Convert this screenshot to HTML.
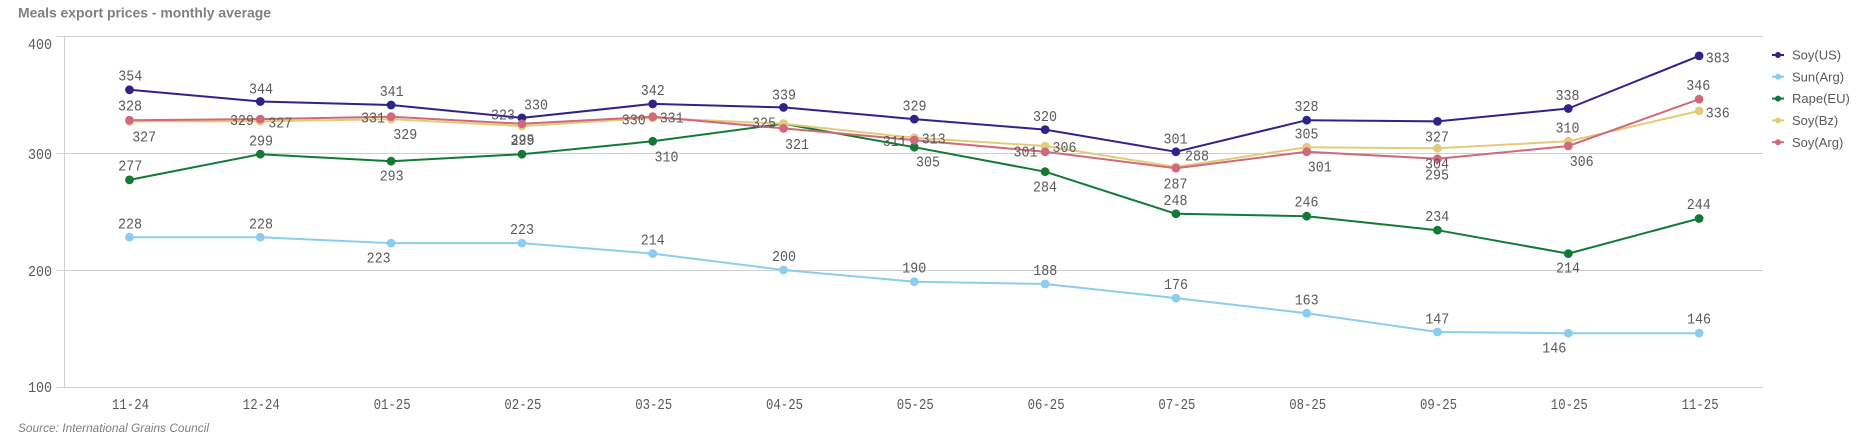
<!DOCTYPE html>
<html>
<head>
<meta charset="utf-8">
<style>
html,body{margin:0;padding:0;background:#fff;}
svg{display:block;}
.lb{font-family:"Liberation Mono",monospace;font-size:14.5px;fill:#595959;}
.ax{font-family:"Liberation Mono",monospace;font-size:14.5px;fill:#595959;}
.lg{font-family:"Liberation Sans",sans-serif;font-size:13px;fill:#595959;}
</style>
</head>
<body>
<svg width="1875" height="440" viewBox="0 0 1875 440" xmlns="http://www.w3.org/2000/svg">
<rect width="1875" height="440" fill="#fff"/>
<text x="18" y="17.5" font-family="Liberation Sans, sans-serif" font-weight="bold" font-size="13.5" fill="#7f7f7f" textLength="253" lengthAdjust="spacingAndGlyphs">Meals export prices - monthly average</text>

<!-- grid -->
<g stroke="#cfcfcf" stroke-width="1">
<line x1="57" y1="36.5" x2="1763" y2="36.5"/>
<line x1="57" y1="153.5" x2="1763" y2="153.5"/>
<line x1="57" y1="270.5" x2="1763" y2="270.5"/>
<line x1="57" y1="387.5" x2="1763" y2="387.5"/>
<line x1="64.5" y1="36" x2="64.5" y2="388"/>
</g>

<!-- y axis labels -->
<g class="ax" text-anchor="end">
<text x="52" y="49" textLength="24" lengthAdjust="spacingAndGlyphs">400</text>
<text x="52" y="159" textLength="24" lengthAdjust="spacingAndGlyphs">300</text>
<text x="52" y="276" textLength="24" lengthAdjust="spacingAndGlyphs">200</text>
<text x="52" y="392" textLength="24" lengthAdjust="spacingAndGlyphs">100</text>
</g>

<!-- x axis labels -->
<g class="ax" text-anchor="middle">
<text x="130.5" y="409" textLength="37" lengthAdjust="spacingAndGlyphs">11-24</text>
<text x="261.3" y="409" textLength="37" lengthAdjust="spacingAndGlyphs">12-24</text>
<text x="392.1" y="409" textLength="37" lengthAdjust="spacingAndGlyphs">01-25</text>
<text x="522.9" y="409" textLength="37" lengthAdjust="spacingAndGlyphs">02-25</text>
<text x="653.7" y="409" textLength="37" lengthAdjust="spacingAndGlyphs">03-25</text>
<text x="784.5" y="409" textLength="37" lengthAdjust="spacingAndGlyphs">04-25</text>
<text x="915.3" y="409" textLength="37" lengthAdjust="spacingAndGlyphs">05-25</text>
<text x="1046.1" y="409" textLength="37" lengthAdjust="spacingAndGlyphs">06-25</text>
<text x="1176.9" y="409" textLength="37" lengthAdjust="spacingAndGlyphs">07-25</text>
<text x="1307.7" y="409" textLength="37" lengthAdjust="spacingAndGlyphs">08-25</text>
<text x="1438.5" y="409" textLength="37" lengthAdjust="spacingAndGlyphs">09-25</text>
<text x="1569.3" y="409" textLength="37" lengthAdjust="spacingAndGlyphs">10-25</text>
<text x="1700.1" y="409" textLength="37" lengthAdjust="spacingAndGlyphs">11-25</text>
</g>

<!-- Soy(US) -->
<polyline fill="none" stroke="#2e2388" stroke-width="2" stroke-linejoin="round" points="129.5,89.8 260.3,101.5 391.1,105.0 521.9,117.9 652.7,103.9 783.5,107.4 914.3,119.1 1045.1,129.6 1175.9,151.8 1306.7,120.2 1437.5,121.4 1568.3,108.5 1699.1,55.9"/>
<g fill="#2e2388">
<circle cx="129.5" cy="89.8" r="4.4"/><circle cx="260.3" cy="101.5" r="4.4"/><circle cx="391.1" cy="105.0" r="4.4"/><circle cx="521.9" cy="117.9" r="4.4"/><circle cx="652.7" cy="103.9" r="4.4"/><circle cx="783.5" cy="107.4" r="4.4"/><circle cx="914.3" cy="119.1" r="4.4"/><circle cx="1045.1" cy="129.6" r="4.4"/><circle cx="1175.9" cy="151.8" r="4.4"/><circle cx="1306.7" cy="120.2" r="4.4"/><circle cx="1437.5" cy="121.4" r="4.4"/><circle cx="1568.3" cy="108.5" r="4.4"/><circle cx="1699.1" cy="55.9" r="4.4"/>
</g>

<!-- Sun(Arg) -->
<polyline fill="none" stroke="#8bcdee" stroke-width="2" stroke-linejoin="round" points="129.5,237.2 260.3,237.2 391.1,243.1 521.9,243.1 652.7,253.6 783.5,270 914.3,281.7 1045.1,284.0 1175.9,298.1 1306.7,313.3 1437.5,332.0 1568.3,333.2 1699.1,333.2"/>
<g fill="#8bcdee">
<circle cx="129.5" cy="237.2" r="4.4"/><circle cx="260.3" cy="237.2" r="4.4"/><circle cx="391.1" cy="243.1" r="4.4"/><circle cx="521.9" cy="243.1" r="4.4"/><circle cx="652.7" cy="253.6" r="4.4"/><circle cx="783.5" cy="270" r="4.4"/><circle cx="914.3" cy="281.7" r="4.4"/><circle cx="1045.1" cy="284.0" r="4.4"/><circle cx="1175.9" cy="298.1" r="4.4"/><circle cx="1306.7" cy="313.3" r="4.4"/><circle cx="1437.5" cy="332.0" r="4.4"/><circle cx="1568.3" cy="333.2" r="4.4"/><circle cx="1699.1" cy="333.2" r="4.4"/>
</g>

<!-- Rape(EU) -->
<polyline fill="none" stroke="#137a36" stroke-width="2" stroke-linejoin="round" points="129.5,179.9 260.3,154.2 391.1,161.2 521.9,154.2 652.7,141.3 783.5,123.8 914.3,147.2 1045.1,171.7 1175.9,213.8 1306.7,216.2 1437.5,230.2 1568.3,253.6 1699.1,218.5"/>
<g fill="#137a36">
<circle cx="129.5" cy="179.9" r="4.4"/><circle cx="260.3" cy="154.2" r="4.4"/><circle cx="391.1" cy="161.2" r="4.4"/><circle cx="521.9" cy="154.2" r="4.4"/><circle cx="652.7" cy="141.3" r="4.4"/><circle cx="783.5" cy="123.8" r="4.4"/><circle cx="914.3" cy="147.2" r="4.4"/><circle cx="1045.1" cy="171.7" r="4.4"/><circle cx="1175.9" cy="213.8" r="4.4"/><circle cx="1306.7" cy="216.2" r="4.4"/><circle cx="1437.5" cy="230.2" r="4.4"/><circle cx="1568.3" cy="253.6" r="4.4"/><circle cx="1699.1" cy="218.5" r="4.4"/>
</g>

<!-- Soy(Bz) -->
<polyline fill="none" stroke="#e2cc7a" stroke-width="2" stroke-linejoin="round" points="129.5,121.4 260.3,121.4 391.1,119.1 521.9,126.1 652.7,117.9 783.5,123.8 914.3,137.8 1045.1,146.0 1175.9,167.0 1306.7,147.2 1437.5,148.3 1568.3,141.3 1699.1,110.9"/>
<g fill="#e2cc7a">
<circle cx="129.5" cy="121.4" r="4.4"/><circle cx="260.3" cy="121.4" r="4.4"/><circle cx="391.1" cy="119.1" r="4.4"/><circle cx="521.9" cy="126.1" r="4.4"/><circle cx="652.7" cy="117.9" r="4.4"/><circle cx="783.5" cy="123.8" r="4.4"/><circle cx="914.3" cy="137.8" r="4.4"/><circle cx="1045.1" cy="146.0" r="4.4"/><circle cx="1175.9" cy="167.0" r="4.4"/><circle cx="1306.7" cy="147.2" r="4.4"/><circle cx="1437.5" cy="148.3" r="4.4"/><circle cx="1568.3" cy="141.3" r="4.4"/><circle cx="1699.1" cy="110.9" r="4.4"/>
</g>

<!-- Soy(Arg) -->
<polyline fill="none" stroke="#d0697b" stroke-width="2" stroke-linejoin="round" points="129.5,120.2 260.3,119.1 391.1,116.7 521.9,123.8 652.7,116.7 783.5,128.4 914.3,140.1 1045.1,151.8 1175.9,168.2 1306.7,151.8 1437.5,158.8 1568.3,146.0 1699.1,99.2"/>
<g fill="#d0697b">
<circle cx="129.5" cy="120.2" r="4.4"/><circle cx="260.3" cy="119.1" r="4.4"/><circle cx="391.1" cy="116.7" r="4.4"/><circle cx="521.9" cy="123.8" r="4.4"/><circle cx="652.7" cy="116.7" r="4.4"/><circle cx="783.5" cy="128.4" r="4.4"/><circle cx="914.3" cy="140.1" r="4.4"/><circle cx="1045.1" cy="151.8" r="4.4"/><circle cx="1175.9" cy="168.2" r="4.4"/><circle cx="1306.7" cy="151.8" r="4.4"/><circle cx="1437.5" cy="158.8" r="4.4"/><circle cx="1568.3" cy="146.0" r="4.4"/><circle cx="1699.1" cy="99.2" r="4.4"/>
</g>

<!-- data labels -->
<g class="lb" text-anchor="middle">
<!-- US -->
<text x="130.3" y="80.7" textLength="24" lengthAdjust="spacingAndGlyphs">354</text>
<text x="261" y="93.3" textLength="24" lengthAdjust="spacingAndGlyphs">344</text>
<text x="391.7" y="96" textLength="24" lengthAdjust="spacingAndGlyphs">341</text>
<text x="536" y="109.3" textLength="24" lengthAdjust="spacingAndGlyphs">330</text>
<text x="652.8" y="95" textLength="24" lengthAdjust="spacingAndGlyphs">342</text>
<text x="784" y="99.3" textLength="24" lengthAdjust="spacingAndGlyphs">339</text>
<text x="914.5" y="110.7" textLength="24" lengthAdjust="spacingAndGlyphs">329</text>
<text x="1045" y="121" textLength="24" lengthAdjust="spacingAndGlyphs">320</text>
<text x="1175.5" y="143.3" textLength="24" lengthAdjust="spacingAndGlyphs">301</text>
<text x="1306.5" y="111" textLength="24" lengthAdjust="spacingAndGlyphs">328</text>
<text x="1437" y="141.7" textLength="24" lengthAdjust="spacingAndGlyphs">327</text>
<text x="1567.5" y="100" textLength="24" lengthAdjust="spacingAndGlyphs">338</text>
<text x="1717.8" y="62.3" textLength="24" lengthAdjust="spacingAndGlyphs">383</text>
<!-- Arg -->
<text x="130" y="110.7" textLength="24" lengthAdjust="spacingAndGlyphs">328</text>
<text x="242" y="125" textLength="24" lengthAdjust="spacingAndGlyphs">329</text>
<text x="373" y="122.7" textLength="24" lengthAdjust="spacingAndGlyphs">331</text>
<text x="522.5" y="144.5" textLength="24" lengthAdjust="spacingAndGlyphs">325</text>
<text x="671.7" y="122.3" textLength="24" lengthAdjust="spacingAndGlyphs">331</text>
<text x="797" y="149" textLength="24" lengthAdjust="spacingAndGlyphs">321</text>
<text x="894.7" y="146" textLength="24" lengthAdjust="spacingAndGlyphs">311</text>
<text x="1025.5" y="156.7" textLength="24" lengthAdjust="spacingAndGlyphs">301</text>
<text x="1175.5" y="188.3" textLength="24" lengthAdjust="spacingAndGlyphs">287</text>
<text x="1319.8" y="171.7" textLength="24" lengthAdjust="spacingAndGlyphs">301</text>
<text x="1437" y="179.3" textLength="24" lengthAdjust="spacingAndGlyphs">295</text>
<text x="1581.7" y="166" textLength="24" lengthAdjust="spacingAndGlyphs">306</text>
<text x="1698.3" y="90" textLength="24" lengthAdjust="spacingAndGlyphs">346</text>
<!-- Bz -->
<text x="144.2" y="141.7" textLength="24" lengthAdjust="spacingAndGlyphs">327</text>
<text x="280.3" y="127.7" textLength="24" lengthAdjust="spacingAndGlyphs">327</text>
<text x="405.3" y="139" textLength="24" lengthAdjust="spacingAndGlyphs">329</text>
<text x="503" y="119.3" textLength="24" lengthAdjust="spacingAndGlyphs">323</text>
<text x="633.8" y="124.3" textLength="24" lengthAdjust="spacingAndGlyphs">330</text>
<text x="764" y="127.3" textLength="24" lengthAdjust="spacingAndGlyphs">325</text>
<text x="933.7" y="143.3" textLength="24" lengthAdjust="spacingAndGlyphs">313</text>
<text x="1064.5" y="152" textLength="24" lengthAdjust="spacingAndGlyphs">306</text>
<text x="1197" y="160.7" textLength="24" lengthAdjust="spacingAndGlyphs">288</text>
<text x="1306.5" y="138.3" textLength="24" lengthAdjust="spacingAndGlyphs">305</text>
<text x="1437" y="168.3" textLength="24" lengthAdjust="spacingAndGlyphs">304</text>
<text x="1567.5" y="132.3" textLength="24" lengthAdjust="spacingAndGlyphs">310</text>
<text x="1717.8" y="117.3" textLength="24" lengthAdjust="spacingAndGlyphs">336</text>
<!-- Rape -->
<text x="130.3" y="170.7" textLength="24" lengthAdjust="spacingAndGlyphs">277</text>
<text x="261" y="145.7" textLength="24" lengthAdjust="spacingAndGlyphs">299</text>
<text x="391.7" y="180.7" textLength="24" lengthAdjust="spacingAndGlyphs">293</text>
<text x="522.5" y="145.2" textLength="24" lengthAdjust="spacingAndGlyphs">299</text>
<text x="666.5" y="161.7" textLength="24" lengthAdjust="spacingAndGlyphs">310</text>
<text x="928" y="166.7" textLength="24" lengthAdjust="spacingAndGlyphs">305</text>
<text x="1045" y="191.7" textLength="24" lengthAdjust="spacingAndGlyphs">284</text>
<text x="1175.5" y="205" textLength="24" lengthAdjust="spacingAndGlyphs">248</text>
<text x="1306.5" y="206.7" textLength="24" lengthAdjust="spacingAndGlyphs">246</text>
<text x="1437.3" y="221" textLength="24" lengthAdjust="spacingAndGlyphs">234</text>
<text x="1568" y="272.7" textLength="24" lengthAdjust="spacingAndGlyphs">214</text>
<text x="1698.8" y="209.2" textLength="24" lengthAdjust="spacingAndGlyphs">244</text>
<!-- Sun -->
<text x="130" y="228.3" textLength="24" lengthAdjust="spacingAndGlyphs">228</text>
<text x="261" y="228.3" textLength="24" lengthAdjust="spacingAndGlyphs">228</text>
<text x="378.6" y="262.6" textLength="24" lengthAdjust="spacingAndGlyphs">223</text>
<text x="522" y="234" textLength="24" lengthAdjust="spacingAndGlyphs">223</text>
<text x="652.7" y="244.6" textLength="24" lengthAdjust="spacingAndGlyphs">214</text>
<text x="784" y="260.8" textLength="24" lengthAdjust="spacingAndGlyphs">200</text>
<text x="914.3" y="272.5" textLength="24" lengthAdjust="spacingAndGlyphs">190</text>
<text x="1045.3" y="275" textLength="24" lengthAdjust="spacingAndGlyphs">188</text>
<text x="1176" y="289" textLength="24" lengthAdjust="spacingAndGlyphs">176</text>
<text x="1306.7" y="304.3" textLength="24" lengthAdjust="spacingAndGlyphs">163</text>
<text x="1437.3" y="323.3" textLength="24" lengthAdjust="spacingAndGlyphs">147</text>
<text x="1554.3" y="352.3" textLength="24" lengthAdjust="spacingAndGlyphs">146</text>
<text x="1699" y="323.3" textLength="24" lengthAdjust="spacingAndGlyphs">146</text>
</g>

<!-- legend -->
<g stroke-width="2">
<line x1="1772" y1="55" x2="1784" y2="55" stroke="#2e2388"/><circle cx="1778" cy="55" r="3" fill="#2e2388"/>
<line x1="1772" y1="76.8" x2="1784" y2="76.8" stroke="#8bcdee"/><circle cx="1778" cy="76.8" r="3" fill="#8bcdee"/>
<line x1="1772" y1="98.6" x2="1784" y2="98.6" stroke="#137a36"/><circle cx="1778" cy="98.6" r="3" fill="#137a36"/>
<line x1="1772" y1="120.4" x2="1784" y2="120.4" stroke="#e2cc7a"/><circle cx="1778" cy="120.4" r="3" fill="#e2cc7a"/>
<line x1="1772" y1="142.2" x2="1784" y2="142.2" stroke="#d0697b"/><circle cx="1778" cy="142.2" r="3" fill="#d0697b"/>
</g>
<g class="lg">
<text x="1792" y="59.6">Soy(US)</text>
<text x="1792" y="81.4">Sun(Arg)</text>
<text x="1792" y="103.2">Rape(EU)</text>
<text x="1792" y="125">Soy(Bz)</text>
<text x="1792" y="146.8">Soy(Arg)</text>
</g>

<text x="18" y="432" font-family="Liberation Sans, sans-serif" font-style="italic" font-size="12" fill="#7f7f7f" textLength="191" lengthAdjust="spacingAndGlyphs">Source: International Grains Council</text>
</svg>
</body>
</html>
